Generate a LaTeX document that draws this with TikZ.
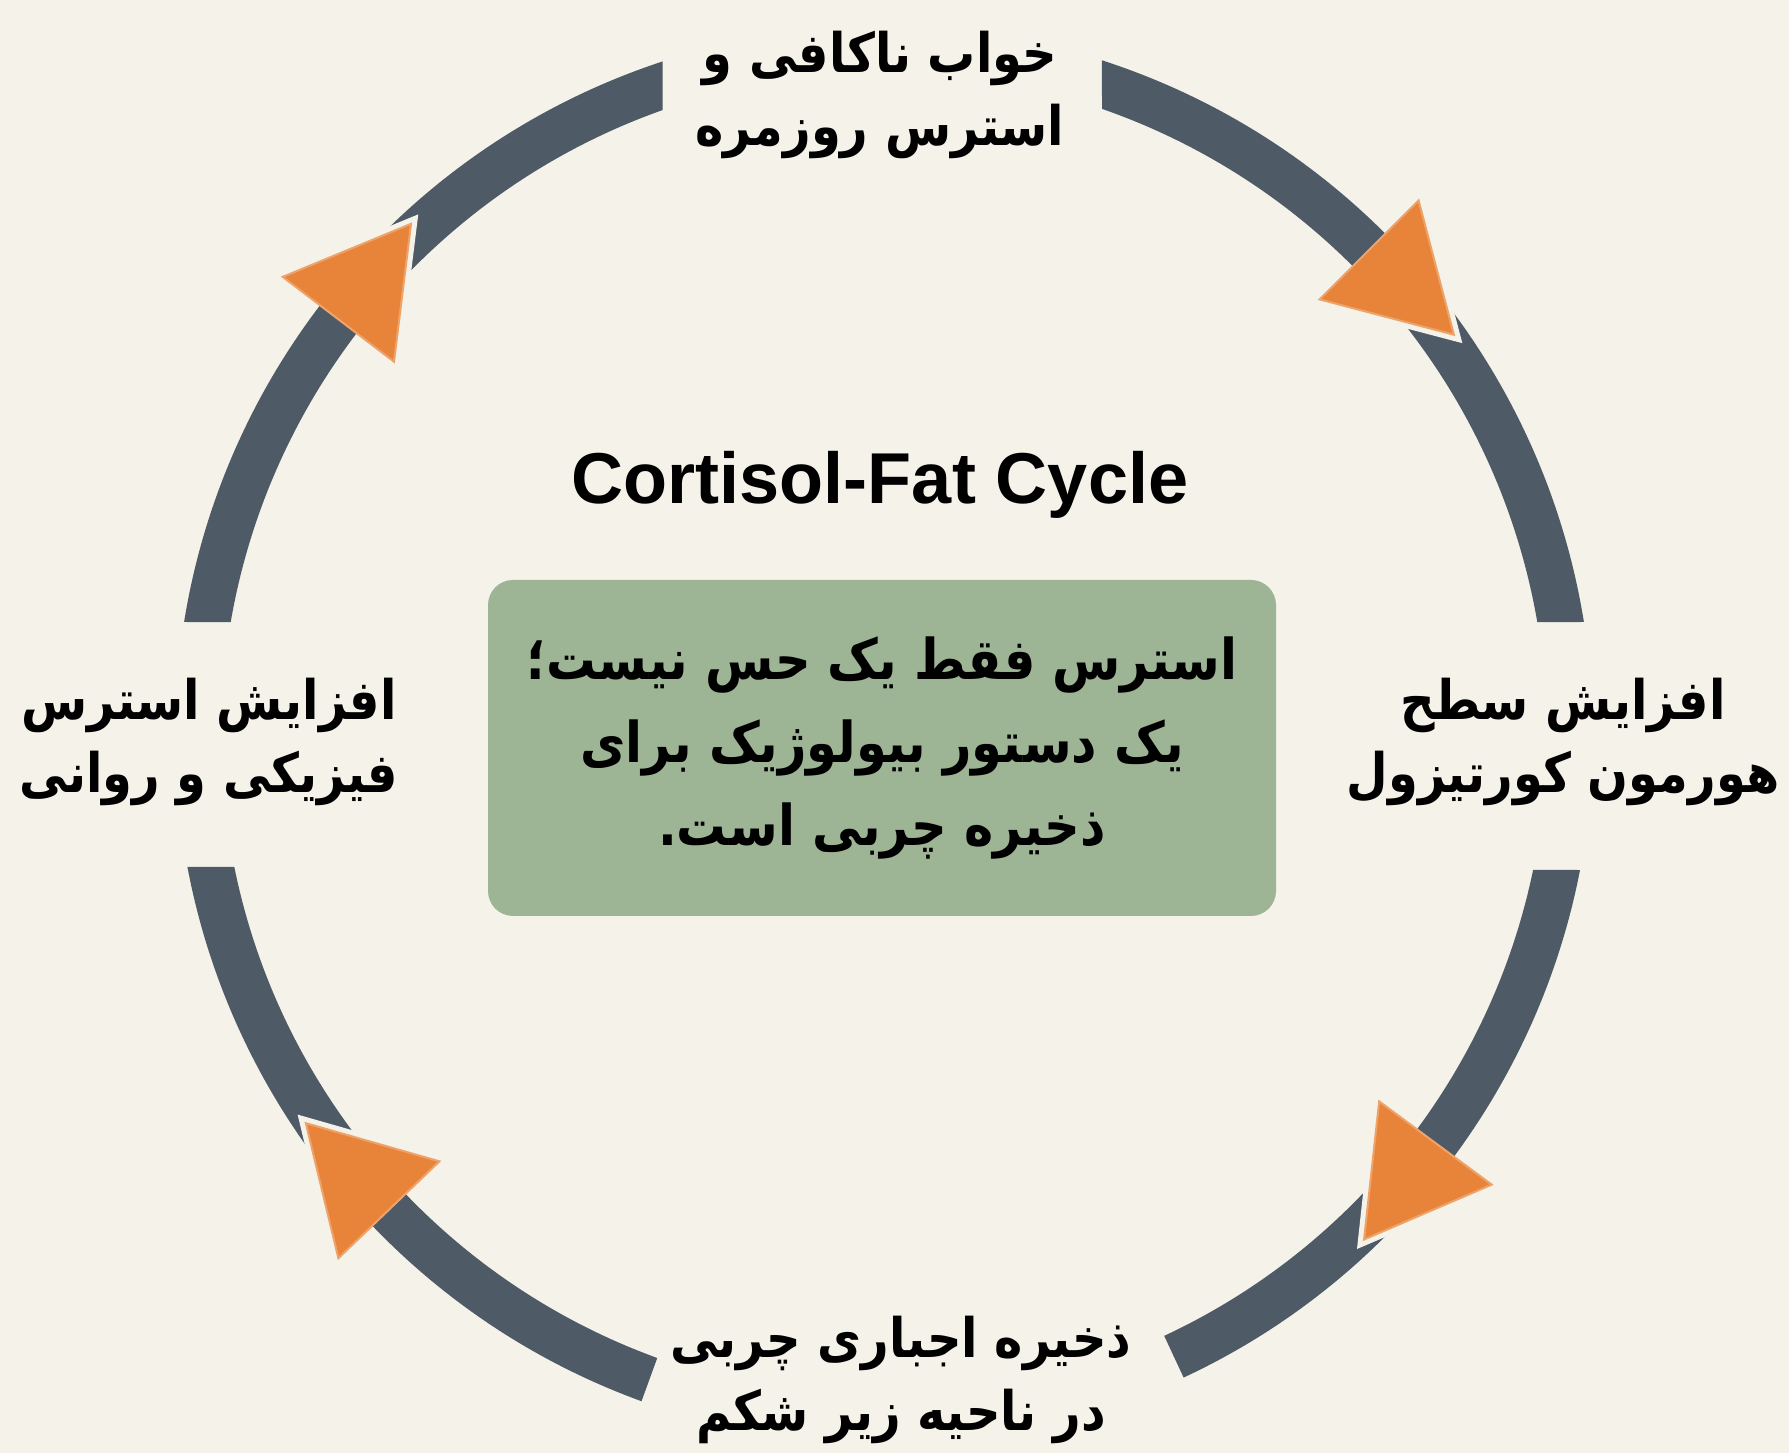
\documentclass[tikz,border=0pt]{standalone}
\usepackage{fontspec}
\setmainfont{Liberation Sans}
\newfontfamily\fa[Script=Arabic, FakeStretch=0.88]{DejaVu Sans}
\TeXXeTstate=1
\usetikzlibrary{calc}
\definecolor{bgc}{HTML}{F4F2E9}
\definecolor{ringc}{HTML}{4E5A66}
\definecolor{arrc}{HTML}{E8843A}
\definecolor{boxc}{HTML}{9DB595}
\newcommand{\rl}[1]{\beginR #1\endR}
\begin{document}
\begin{tikzpicture}[
  lbl/.style={font=\fa\bfseries\fontsize{15.5}{20.5}\selectfont, align=center, text=black, inner sep=0pt},
  boxtext/.style={font=\fa\bfseries\fontsize{16}{23.5}\selectfont, align=center, text=black},
  ringseg/.style={fill=ringc},
  arrowhead/.style={fill=arrc, draw=arrc!75!white, line width=0.02cm},
  arrowgap/.style={draw=bgc, line width=0.12cm, line join=miter}
]
\useasboundingbox (0,0) rectangle (17.89,14.53);
\fill[bgc] (0,0) rectangle (17.89,14.53);
\begin{scope}[shift={(8.84,7.18)}]
  \def\Ro{7.09}\def\Ri{6.63}
  \foreach \a/\b/\c/\d in {72.1/70.8/9.17/9.81, -10.98/-11.75/-65/-65, 250/250/190.73/191.48, 170.83/170.19/108.2/109.5}
    \fill[ringseg] (\a:\Ro) arc[start angle=\a, end angle=\c, radius=\Ro] -- (\d:\Ri) arc[start angle=\d, end angle=\b, radius=\Ri] -- cycle;
  \foreach \t [count=\i] in {45,142.7,-36.5,223.8} {
    \pgfmathsetmacro\tg{\t-90}
    \coordinate (b\i) at (\t:6.86);
    \coordinate (co\i) at (\t:7.56);
    \coordinate (ci\i) at (\t:6.16);
    \coordinate (tip\i) at ($(b\i)+(\tg:1.2)$);
    \draw[arrowgap] (co\i) -- (tip\i) -- (ci\i);
    \fill[arrowhead] (co\i) -- (tip\i) -- (ci\i) -- cycle;
  }
\end{scope}
\node[lbl] (top) at (8.80,13.58) {\rl{خواب ناکافی و}\\\rl{استرس روزمره}};
\node[lbl] (right) at (15.63,7.11) {\rl{افزایش سطح}\\\rl{هورمون کورتیزول}};
\node[lbl] (bottom) at (9.01,0.73) {\rl{ذخیره اجباری چربی}\\\rl{در ناحیه زیر شکم}};
\node[lbl] (left) at (2.09,7.11) {\rl{افزایش استرس}\\\rl{فیزیکی و روانی}};
\node[font=\bfseries\fontsize{20.5}{24}\selectfont] (title) at (8.80,9.68) {Cortisol-Fat Cycle};
\node[fill=boxc, rounded corners=0.25cm, minimum width=7.88cm, minimum height=3.36cm, boxtext] (box) at (8.82,7.05)
  {\rl{استرس فقط یک حس نیست؛}\\\rl{یک دستور بیولوژیک برای}\\\rl{ذخیره چربی است.}};
\end{tikzpicture}
\end{document}
